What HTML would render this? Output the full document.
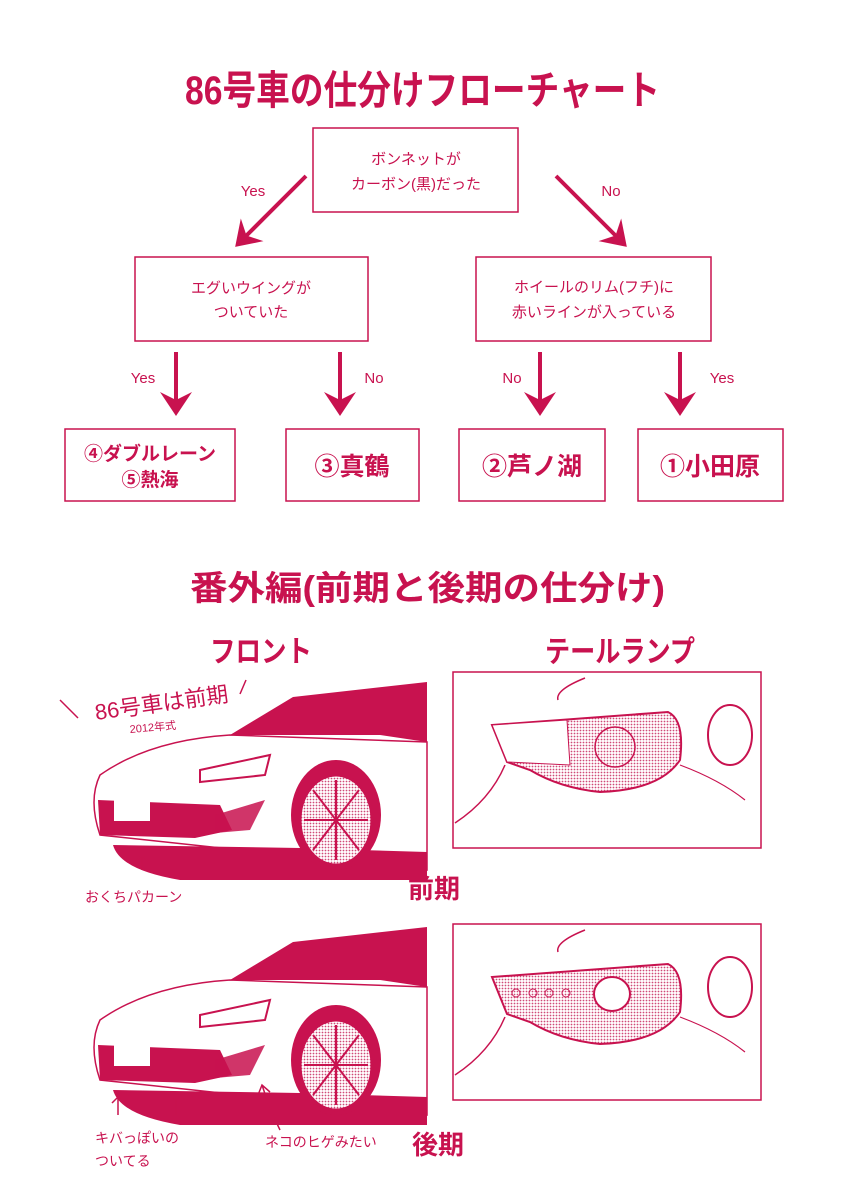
<!DOCTYPE html>
<html><head><meta charset="utf-8"><style>
html,body{margin:0;padding:0;background:#fff}
svg{display:block}
text{font-family:"Liberation Sans","Noto Sans CJK JP",sans-serif;fill:#c8124f}
</style></head><body>
<svg width="846" height="1200" viewBox="0 0 846 1200" xmlns="http://www.w3.org/2000/svg">
<defs>
<marker id="ah" markerWidth="8" markerHeight="8" refX="5" refY="4" orient="auto" markerUnits="strokeWidth">
<path d="M0,0 L6,4 L0,8 L2,4 Z" fill="#c8124f"/></marker>
<pattern id="dots" width="3" height="3" patternUnits="userSpaceOnUse"><rect width="3" height="3" fill="#fff"/><circle cx="1.5" cy="1.5" r="0.9" fill="#d04a78"/></pattern>
</defs>
<g fill="none" stroke="#c8124f">
<text x="185" y="104" font-size="40" font-weight="bold" textLength="475" lengthAdjust="spacingAndGlyphs" stroke="none">86号車の仕分けフローチャート</text>

<rect x="313" y="128" width="205" height="84" stroke-width="1.5"/>
<rect x="135" y="257" width="233" height="84" stroke-width="1.5"/>
<rect x="476" y="257" width="235" height="84" stroke-width="1.5"/>
<rect x="65" y="429" width="170" height="72" stroke-width="1.5"/>
<rect x="286" y="429" width="133" height="72" stroke-width="1.5"/>
<rect x="459" y="429" width="146" height="72" stroke-width="1.5"/>
<rect x="638" y="429" width="145" height="72" stroke-width="1.5"/>

<line x1="306" y1="176" x2="238" y2="244" stroke-width="4" marker-end="url(#ah)"/>
<line x1="556" y1="176" x2="624" y2="244" stroke-width="4" marker-end="url(#ah)"/>
<line x1="176" y1="352" x2="176" y2="412" stroke-width="4" marker-end="url(#ah)"/>
<line x1="340" y1="352" x2="340" y2="412" stroke-width="4" marker-end="url(#ah)"/>
<line x1="540" y1="352" x2="540" y2="412" stroke-width="4" marker-end="url(#ah)"/>
<line x1="680" y1="352" x2="680" y2="412" stroke-width="4" marker-end="url(#ah)"/>
</g>
<g font-size="15" text-anchor="middle" stroke="none">
<text x="416" y="164">ボンネットが</text>
<text x="416" y="189">カーボン(黒)だった</text>
<text x="251" y="293">エグいウイングが</text>
<text x="251" y="317">ついていた</text>
<text x="594" y="292">ホイールのリム(フチ)に</text>
<text x="594" y="317">赤いラインが入っている</text>
<text x="253" y="196">Yes</text>
<text x="611" y="196">No</text>
<text x="143" y="383">Yes</text>
<text x="374" y="383">No</text>
<text x="512" y="383">No</text>
<text x="722" y="383">Yes</text>
</g>
<g font-weight="bold" text-anchor="middle">
<text x="150" y="460" font-size="19">④ダブルレーン</text>
<text x="150" y="486" font-size="19">⑤熱海</text>
<text x="352" y="475" font-size="25">③真鶴</text>
<text x="532" y="475" font-size="25">②芦ノ湖</text>
<text x="710" y="475" font-size="25">①小田原</text>
</g>
<g font-weight="bold">
<text x="190" y="600" font-size="34" textLength="475" lengthAdjust="spacingAndGlyphs">番外編(前期と後期の仕分け)</text>
<text x="210" y="662" font-size="30" textLength="102" lengthAdjust="spacingAndGlyphs">フロント</text>
<text x="545" y="662" font-size="30" textLength="150" lengthAdjust="spacingAndGlyphs">テールランプ</text>
<text x="408" y="898" font-size="26">前期</text>
<text x="412" y="1154" font-size="26">後期</text>
</g>

<!-- Car 1 -->
<g id="car">
<path d="M230,735 L293,697 L427,682 L427,742 L380,735 L300,735 Z" fill="#c8124f"/>
<path d="M100,775 Q150,740 230,735 L427,742 L427,870 L100,835 Q88,800 100,775 Z" fill="#fff" stroke="#c8124f" stroke-width="1.5"/>
<path d="M113,845 L300,848 L360,850 L427,852 L427,880 L180,880 Q120,870 113,845 Z" fill="#c8124f"/>
<path d="M98,800 L220,805 L232,830 L195,838 L100,835 Z" fill="#c8124f"/>
<rect x="114" y="791" width="36" height="30" fill="#fff"/>
<path d="M215,815 L265,800 L250,830 L215,833 Z" fill="#c8124f" opacity="0.85"/>
<path d="M200,770 L270,755 L265,775 L200,782 Z" fill="none" stroke="#c8124f" stroke-width="2"/>
<ellipse cx="336" cy="815" rx="45" ry="55" fill="#c8124f"/>
<ellipse cx="336" cy="820" rx="36" ry="45" fill="url(#dots)" stroke="#c8124f" stroke-width="3"/>
<g stroke="#c8124f" stroke-width="2">
<line x1="336" y1="780" x2="336" y2="860"/><line x1="304" y1="820" x2="368" y2="820"/>
<line x1="313" y1="790" x2="359" y2="850"/><line x1="359" y1="790" x2="313" y2="850"/>
</g>
</g>
<use href="#car" transform="translate(0,245)"/>

<g font-size="16" fill="#c8124f">
<text x="96" y="720" transform="rotate(-8 96 720)" font-size="22">86号車は前期</text>
<text x="130" y="733" font-size="11" transform="rotate(-5 130 733)">2012年式</text>
<text x="85" y="902" font-size="14">おくちパカーン</text>
<text x="95" y="1143" font-size="14">キバっぽいの</text>
<text x="95" y="1166" font-size="14">ついてる</text>
<text x="265" y="1147" font-size="14">ネコのヒゲみたい</text>
</g>
<g stroke="#c8124f" stroke-width="1.5" fill="none">
<line x1="60" y1="700" x2="78" y2="718"/><line x1="240" y1="694" x2="246" y2="680"/>
<path d="M142,870 L142,855 M136,861 L142,855 L148,861"/>
<path d="M118,1115 L118,1097 M112,1103 L118,1097 L124,1103"/>
<path d="M176,1115 L176,1097 M170,1103 L176,1097 L182,1103"/>
<path d="M280,1130 Q270,1110 262,1085 M258,1095 L262,1085 L270,1092"/>
</g>

<!-- Tail lamps -->
<g stroke="#c8124f" fill="none">
<rect x="453" y="672" width="308" height="176" stroke-width="1.5"/>
<rect x="453" y="924" width="308" height="176" stroke-width="1.5"/>
<path d="M492,725 L668,712 Q685,720 680,760 Q660,790 600,792 Q560,788 530,770 L507,762 Z" fill="url(#dots)" stroke-width="2"/>
<path d="M492,725 L567,720 L570,765 L507,762 Z" fill="#fff" stroke-width="1"/>
<ellipse cx="615" cy="747" rx="20" ry="20" stroke-width="1.5"/>
<ellipse cx="730" cy="735" rx="22" ry="30" stroke-width="2"/>
<path d="M505,765 Q490,800 455,823" stroke-width="1.5"/>
<path d="M558,700 Q555,690 585,678" stroke-width="1.5"/>
<path d="M680,765 Q720,780 745,800" stroke-width="1.2"/>
<path d="M492,977 L668,964 Q685,972 680,1012 Q660,1042 600,1044 Q560,1040 530,1022 L507,1014 Z" fill="url(#dots)" stroke-width="2"/>
<ellipse cx="612" cy="994" rx="18" ry="17" fill="#fff" stroke-width="2"/>
<circle cx="516" cy="993" r="4"/><circle cx="533" cy="993" r="4"/><circle cx="549" cy="993" r="4"/><circle cx="566" cy="993" r="4"/>
<ellipse cx="730" cy="987" rx="22" ry="30" stroke-width="2"/>
<path d="M505,1017 Q490,1052 455,1075" stroke-width="1.5"/>
<path d="M558,952 Q555,942 585,930" stroke-width="1.5"/>
<path d="M680,1017 Q720,1032 745,1052" stroke-width="1.2"/>
</g>
</svg>
</body></html>
